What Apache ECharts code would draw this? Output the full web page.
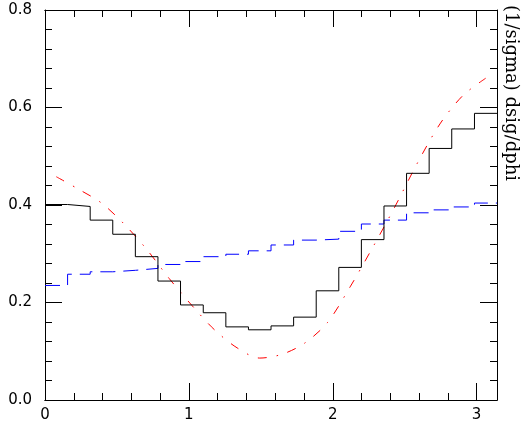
<!DOCTYPE html>
<html>
<head>
<meta charset="utf-8">
<script src="https://cdn.jsdelivr.net/npm/echarts@6/dist/echarts.min.js"></script>
<style>
  html, body { margin: 0; padding: 0; background: #fff; }
  #chart { width: 521px; height: 427px; }
</style>
</head>
<body>
<div id="chart"></div>
<script>
// bin edges of the histograms (phi, 20 bins from 0 to pi)
const binEdges = [0, 0.157, 0.314, 0.471, 0.628, 0.785, 0.942, 1.100, 1.257, 1.414, 1.571,
  1.728, 1.885, 2.042, 2.199, 2.356, 2.513, 2.670, 2.827, 2.985, 3.1416]
// solid black histogram
const blackValues = [0.401, 0.397, 0.369, 0.340, 0.294, 0.244, 0.195, 0.179, 0.150, 0.144,
  0.152, 0.170, 0.224, 0.272, 0.329, 0.398, 0.465, 0.516, 0.556, 0.588]
// blue dashed histogram
const blueValues = [0.235, 0.258, 0.263, 0.266, 0.270, 0.278, 0.284, 0.294, 0.299, 0.306,
  0.318, 0.328, 0.330, 0.346, 0.361, 0.369, 0.384, 0.390, 0.396, 0.404]
// red dash-dot curve, sampled at bin centres
const redX = [0.0785, 0.2356, 0.3927, 0.5498, 0.7069, 0.8639, 1.0210, 1.1781, 1.3352, 1.4923,
  1.6493, 1.8064, 1.9635, 2.1206, 2.2777, 2.4347, 2.5918, 2.7489, 2.9060, 3.0631]
const redValues = [0.458, 0.432, 0.404, 0.361, 0.309, 0.249, 0.194, 0.144, 0.107, 0.086,
  0.094, 0.117, 0.159, 0.232, 0.313, 0.398, 0.488, 0.568, 0.625, 0.660]
const xTickLabels = [0, 1, 2, 3]
const yTickLabels = [0, 0.2, 0.4, 0.6, 0.8]
const yTitle = '(1/sigma) dsig/dphi'

const xMax = binEdges[binEdges.length - 1]

function stepData(values) {
  // one point per bin edge, last value repeated up to the right edge
  const pts = values.map((v, i) => [binEdges[i], v])
  pts.push([xMax, values[values.length - 1]])
  return pts
}

const lineBlack = { show: true, onZero: false, lineStyle: { color: '#000', width: 1 } }
const labelFont = { color: '#000', fontSize: 15, fontFamily: 'DejaVu Sans' }

function xAxisDef(position, interval, tickLen, withLabels) {
  return {
    type: 'value',
    min: 0,
    max: xMax,
    interval: interval,
    position: position,
    axisLine: lineBlack,
    axisTick: { show: true, inside: true, length: tickLen, lineStyle: { color: '#000', width: 1 } },
    axisLabel: withLabels ? Object.assign({
      margin: 8,
      showMaxLabel: false,
      formatter: function(v) {
        return xTickLabels.indexOf(v) >= 0 ? String(v) : ''
      }
    }, labelFont) : { show: false },
    splitLine: { show: false }
  }
}

function yAxisDef(position, withLabels) {
  return {
    type: 'value',
    min: 0,
    max: 0.8,
    interval: 0.2,
    position: position,
    axisLine: lineBlack,
    axisTick: { show: true, inside: true, length: 17, lineStyle: { color: '#000', width: 1 } },
    minorTick: { show: true, splitNumber: 5, length: 7, lineStyle: { color: '#000', width: 1 } },
    axisLabel: withLabels ? Object.assign({
      margin: 13,
      formatter: function(v) {
        const hit = yTickLabels.find(t => Math.abs(t - v) < 1e-6)
        return hit === undefined ? '' : hit.toFixed(1)
      }
    }, labelFont) : { show: false },
    splitLine: { show: false },
    minorSplitLine: { show: false }
  }
}

const myChart = echarts.init(document.getElementById('chart'), null, { renderer: 'canvas' })
const option = {
  animation: false,
  backgroundColor: '#fff',
  grid: { left: 45, right: 24, top: 10, bottom: 27, containLabel: false },
  xAxis: [
    xAxisDef('bottom', 1, 17, true),
    xAxisDef('bottom', 0.2, 7, false),
    xAxisDef('top', 1, 17, false),
    xAxisDef('top', 0.2, 7, false)
  ],
  yAxis: [
    yAxisDef('left', true),
    yAxisDef('right', false)
  ],
  graphic: [{
    type: 'text',
    x: 511,
    y: 5,
    rotation: -Math.PI / 2,
    style: {
      text: yTitle,
      fill: '#000',
      font: '18px "DejaVu Serif"',
      textAlign: 'left',
      textVerticalAlign: 'middle'
    }
  }],
  series: [
    {
      type: 'line',
      xAxisIndex: 0,
      yAxisIndex: 0,
      data: redX.map((x, i) => [x, redValues[i]]),
      smooth: 0.3,
      symbol: 'none',
      lineStyle: { color: '#ff0000', width: 1, type: [9, 10, 1.5, 10] }
    },
    {
      type: 'line',
      xAxisIndex: 0,
      yAxisIndex: 0,
      data: stepData(blueValues),
      step: 'end',
      symbol: 'none',
      lineStyle: { color: '#0000ff', width: 1, type: [15, 8] }
    },
    {
      type: 'line',
      xAxisIndex: 0,
      yAxisIndex: 0,
      data: stepData(blackValues),
      step: 'end',
      symbol: 'none',
      lineStyle: { color: '#000', width: 1 }
    }
  ]
}
myChart.setOption(option)
</script>
</body>
</html>
